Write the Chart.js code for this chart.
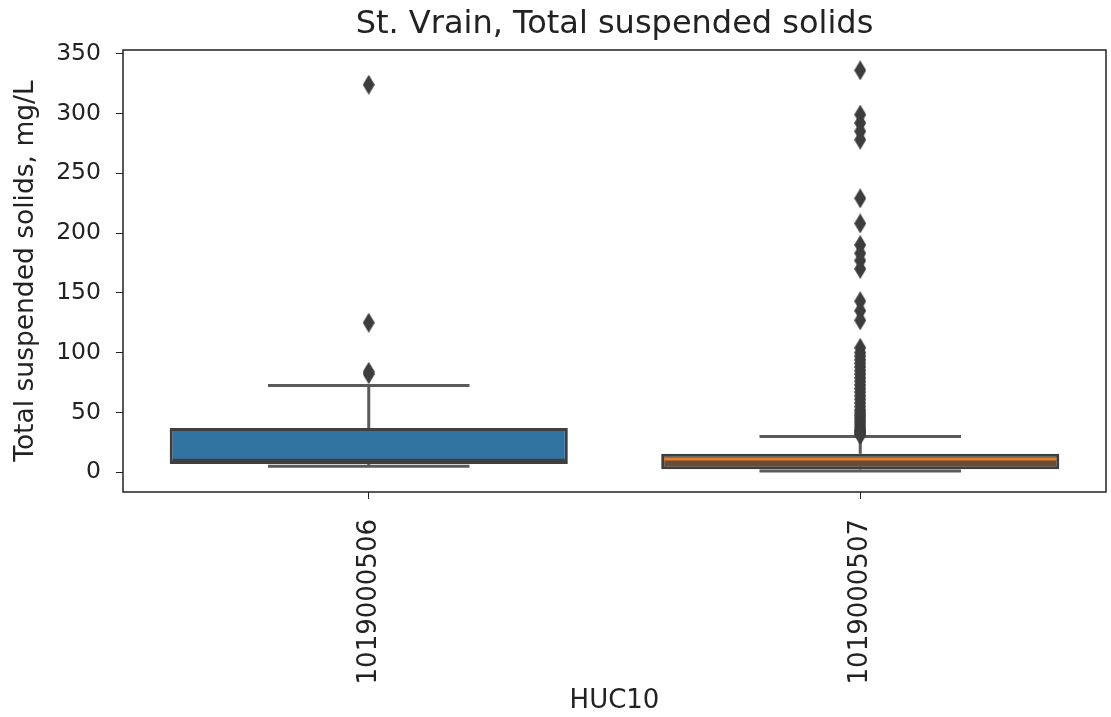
<!DOCTYPE html>
<html>
<head>
<meta charset="utf-8">
<script src="https://cdn.jsdelivr.net/npm/chart.js@4.4.1/dist/chart.umd.min.js"></script>
<style>
  html, body { margin: 0; padding: 0; background: #fff; }
  #wrap { width: 1111px; height: 717px; }
</style>
</head>
<body>
<div id="wrap"><canvas id="box"></canvas></div>
<script>
// data
const categories = ['1019000506', '1019000507'];
const q1 = [7, 2.5];
const q3 = [37, 15.5];
const medians = [10, 11];
const whiskerLow = [5, 1];
const whiskerHigh = [72.5, 30];
const outliers506 = [324, 125, 84, 82];
const outliers507 = [336, 299, 292, 285, 278, 229, 208, 190, 183, 177, 170, 143, 135, 127,
  104, 100, 97, 94, 91, 88, 85, 82, 79, 76, 73, 70, 67, 64, 61, 58, 55, 52, 50, 48, 46,
  44, 42, 40, 38, 36, 35, 34, 33, 32, 31];
const yTicks = [0, 50, 100, 150, 200, 250, 300, 350];
const titleText = 'St. Vrain, Total suspended solids';

const boxFill = ['#3274a1', '#6a4b35'];
const medianColor = ['#3f3f3f', '#e1812c'];
const lineGray = '#5a5a5a';

Chart.defaults.font.family = 'DejaVu Sans';
Chart.defaults.color = '#222';

// thin diamond marker, like matplotlib 'd'
const diamond = document.createElement('canvas');
diamond.width = 12;
diamond.height = 20;
(function () {
  const c = diamond.getContext('2d');
  c.fillStyle = '#3d3d3d';
  c.beginPath();
  c.moveTo(6, 0);
  c.lineTo(12, 10);
  c.lineTo(6, 20);
  c.lineTo(0, 10);
  c.closePath();
  c.fill();
})();

// whiskers behind the boxes, medians, frame and title on top
const boxParts = {
  id: 'boxParts',
  beforeDatasetsDraw(chart) {
    const ctx = chart.ctx, x = chart.scales.x, y = chart.scales.y;
    const step = x.getPixelForValue(1) - x.getPixelForValue(0);
    ctx.save();
    ctx.strokeStyle = lineGray;
    ctx.lineWidth = 3;
    categories.forEach((c, i) => {
      const cx = x.getPixelForValue(i);
      const capW = step * 0.205;
      ctx.beginPath();
      ctx.moveTo(cx, y.getPixelForValue(whiskerLow[i]));
      ctx.lineTo(cx, y.getPixelForValue(q1[i]));
      ctx.moveTo(cx, y.getPixelForValue(q3[i]));
      ctx.lineTo(cx, y.getPixelForValue(whiskerHigh[i]));
      ctx.moveTo(cx - capW, y.getPixelForValue(whiskerLow[i]));
      ctx.lineTo(cx + capW, y.getPixelForValue(whiskerLow[i]));
      ctx.moveTo(cx - capW, y.getPixelForValue(whiskerHigh[i]));
      ctx.lineTo(cx + capW, y.getPixelForValue(whiskerHigh[i]));
      ctx.stroke();
    });
    ctx.restore();
  },
  afterDatasetDraw(chart, args) {
    if (args.index !== 0) return;
    const ctx = chart.ctx, y = chart.scales.y;
    const meta = chart.getDatasetMeta(0);
    ctx.save();
    categories.forEach((c, i) => {
      const bar = meta.data[i];
      const my = y.getPixelForValue(medians[i]);
      ctx.strokeStyle = medianColor[i];
      ctx.lineWidth = 3;
      ctx.beginPath();
      ctx.moveTo(bar.x - bar.width / 2 + 3, my);
      ctx.lineTo(bar.x + bar.width / 2 - 3, my);
      ctx.stroke();
    });
    ctx.restore();
  },
  afterDraw(chart) {
    const a = chart.chartArea, ctx = chart.ctx;
    ctx.save();
    ctx.strokeStyle = '#222';
    ctx.lineWidth = 1.5;
    ctx.strokeRect(a.left, a.top, a.right - a.left, a.bottom - a.top);
    // title centred over the plot area, as matplotlib does
    ctx.fillStyle = '#222';
    ctx.font = '32px "DejaVu Sans"';
    ctx.textAlign = 'center';
    ctx.textBaseline = 'middle';
    ctx.fillText(titleText, (a.left + a.right) / 2, 25);
    ctx.restore();
  }
};

new Chart(document.getElementById('box'), {
  type: 'bar',
  data: {
    labels: categories,
    datasets: [{
      label: 'box',
      data: categories.map((c, i) => [q1[i], q3[i]]),
      backgroundColor: boxFill,
      borderColor: '#3f3f3f',
      borderWidth: 3,
      borderSkipped: false,
      barPercentage: 0.81,
      categoryPercentage: 1
    }, {
      type: 'scatter',
      label: 'outliers',
      data: outliers506.map(v => ({ x: categories[0], y: v }))
        .concat(outliers507.map(v => ({ x: categories[1], y: v }))),
      pointStyle: diamond
    }]
  },
  options: {
    responsive: true,
    maintainAspectRatio: false,
    animation: false,
    layout: { padding: { top: 50, right: 1, bottom: 0, left: 0 } },
    scales: {
      x: {
        type: 'category',
        offset: true,
        grid: { display: true, drawOnChartArea: false, drawTicks: true, tickLength: 7, tickColor: '#222', offset: false },
        border: { display: false },
        ticks: { minRotation: 90, maxRotation: 90, padding: 20, font: { size: 26 } },
        title: { display: true, text: 'HUC10', font: { size: 26 }, padding: { top: 0, bottom: 0 } },
        afterFit(scale) { scale.height = 225; }
      },
      y: {
        min: -16.5,
        max: 353,
        grid: { display: true, drawOnChartArea: false, drawTicks: true, tickLength: 7, tickColor: '#222' },
        border: { display: false },
        ticks: { padding: 15, font: { size: 23.5 } },
        afterBuildTicks(scale) { scale.ticks = yTicks.map(v => ({ value: v })); },
        title: { display: true, text: 'Total suspended solids, mg/L', font: { size: 26.5 }, padding: { top: 10, bottom: 0 } },
        afterFit(scale) { scale.width = 123; }
      }
    },
    plugins: {
      legend: { display: false },
      tooltip: { enabled: false },
      title: { display: false }
    }
  },
  plugins: [boxParts]
});
</script>
</body>
</html>
